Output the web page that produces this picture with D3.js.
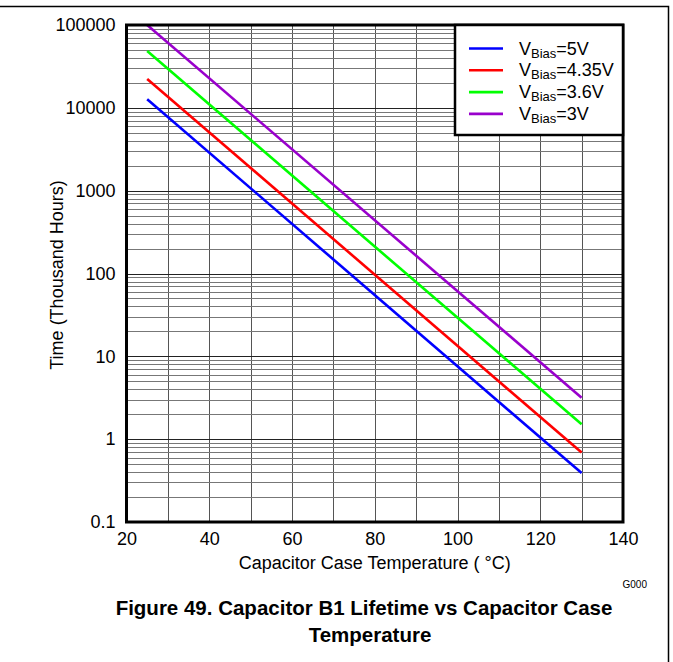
<!DOCTYPE html>
<html>
<head>
<meta charset="utf-8">
<script src="https://cdn.jsdelivr.net/npm/d3@7"></script>
<style>
  body { margin: 0; background: #fff; }
  svg { display: block; font-family: "Liberation Sans", Arial, sans-serif; }
</style>
</head>
<body>
<svg id="chart" width="673" height="662"></svg>
<script>
// data (straight lines on log scale, endpoints)
var temps = [25, 130];
var vBias5 = [12700, 0.39];
var vBias435 = [22300, 0.69];
var vBias36 = [48600, 1.51];
var vBias3 = [100000, 3.17];

var seriesNames = ["5V", "4.35V", "3.6V", "3V"];
var seriesColors = ["#0000ff", "#ff0000", "#00ff00", "#9900cc"];
var seriesValues = [vBias5, vBias435, vBias36, vBias3];

var xTicks = [20, 40, 60, 80, 100, 120, 140];
var yTicks = [0.1, 1, 10, 100, 1000, 10000, 100000];

var svg = d3.select("#chart");

// plot area
var plotL = 126.5, plotR = 623, plotT = 25, plotB = 522;

var x = d3.scaleLinear().domain([20, 140]).range([plotL, plotR]);
var y = d3.scaleLog().domain([0.1, 100000]).range([plotB, plotT]);

// outer frame
svg.append("path")
    .attr("d", "M0,6.5 H668.5 V662")
    .attr("fill", "none")
    .attr("stroke", "#000")
    .attr("stroke-width", 1.5);

// grid
var grid = svg.append("g").attr("class", "grid");
var vgrid = d3.range(30, 140, 10);
grid.selectAll("line.v")
    .data(vgrid)
    .enter().append("line")
    .attr("class", "v")
    .attr("x1", function(d){ return Math.round(x(d)) + 0.5; })
    .attr("x2", function(d){ return Math.round(x(d)) + 0.5; })
    .attr("y1", plotT)
    .attr("y2", plotB)
    .attr("stroke", "#555")
    .attr("stroke-width", 1);

var hgrid = [];
yTicks.forEach(function(t){
    for (var k = 1; k < 10; k++) {
        var v = t * k;
        if (v > 0.1 && v < 100000) hgrid.push({v: v, major: k === 1});
    }
});
grid.selectAll("line.h")
    .data(hgrid)
    .enter().append("line")
    .attr("class", "h")
    .attr("x1", plotL)
    .attr("x2", plotR)
    .attr("y1", function(d){ return Math.round(y(d.v)) + 0.5; })
    .attr("y2", function(d){ return Math.round(y(d.v)) + 0.5; })
    .attr("stroke", function(d){ return d.major ? "#222" : "#777"; })
    .attr("stroke-width", 1);

// series lines
svg.append("clipPath").attr("id", "clip")
    .append("rect")
    .attr("x", plotL).attr("y", plotT)
    .attr("width", plotR - plotL).attr("height", plotB - plotT);

var line = d3.line()
    .x(function(d){ return x(d[0]); })
    .y(function(d){ return y(d[1]); });

svg.append("g")
    .attr("clip-path", "url(#clip)")
    .selectAll("path")
    .data(seriesValues)
    .enter().append("path")
    .attr("d", function(vals){
        return line(temps.map(function(t, i){ return [t, vals[i]]; }));
    })
    .attr("fill", "none")
    .attr("stroke", function(d, i){ return seriesColors[i]; })
    .attr("stroke-width", 2.6);

// axes (labels only, frame drawn separately)
var xAxis = svg.append("g")
    .attr("transform", "translate(0," + plotB + ")")
    .call(d3.axisBottom(x).tickValues(xTicks).tickSize(0).tickPadding(10));
xAxis.select(".domain").remove();
xAxis.selectAll("text")
    .attr("font-size", "18px")
    .attr("font-family", "Liberation Sans, Arial, sans-serif")
    .attr("fill", "#000");

var yAxis = svg.append("g")
    .attr("transform", "translate(" + plotL + ",0)")
    .call(d3.axisLeft(y).tickValues(yTicks).tickSize(0).tickPadding(11)
        .tickFormat(function(d){ return d < 1 ? "0.1" : d3.format("d")(d); }));
yAxis.select(".domain").remove();
yAxis.selectAll("text")
    .attr("font-size", "18px")
    .attr("font-family", "Liberation Sans, Arial, sans-serif")
    .attr("fill", "#000");

// plot border
svg.append("rect")
    .attr("x", plotL).attr("y", plotT)
    .attr("width", plotR - plotL).attr("height", plotB - plotT)
    .attr("fill", "none")
    .attr("stroke", "#000")
    .attr("stroke-width", 3);

// legend
var legX = 455, legY = plotT;
var legend = svg.append("g");
legend.append("rect")
    .attr("x", legX).attr("y", legY)
    .attr("width", plotR - legX).attr("height", 110)
    .attr("fill", "#fff")
    .attr("stroke", "#000")
    .attr("stroke-width", 2.5);

var rows = legend.selectAll("g.row")
    .data(seriesNames)
    .enter().append("g")
    .attr("class", "row")
    .attr("transform", function(d, i){ return "translate(0," + (48.5 + i * 21.8) + ")"; });
rows.append("line")
    .attr("x1", 469).attr("x2", 503)
    .attr("stroke", function(d, i){ return seriesColors[i]; })
    .attr("stroke-width", 2.6);
var lt = rows.append("text")
    .attr("x", 519)
    .attr("y", 6)
    .attr("font-size", "18px");
lt.append("tspan").text("V");
lt.append("tspan").attr("font-size", "13px").attr("dy", 3).text("Bias");
lt.append("tspan").attr("dy", -3).text(function(d){ return "=" + d; });

// axis titles
svg.append("text")
    .attr("x", (plotL + plotR) / 2)
    .attr("y", 569)
    .attr("text-anchor", "middle")
    .attr("font-size", "18px")
    .text("Capacitor Case Temperature ( \u00B0C)");

svg.append("text")
    .attr("transform", "translate(63,275) rotate(-90)")
    .attr("text-anchor", "middle")
    .attr("font-size", "18px")
    .text("Time (Thousand Hours)");

// graph id
svg.append("text")
    .attr("x", 647)
    .attr("y", 588)
    .attr("text-anchor", "end")
    .attr("font-size", "10px")
    .text("G000");

// caption
var cap = svg.append("text")
    .attr("text-anchor", "middle")
    .attr("font-size", "20.5px")
    .attr("font-weight", "bold");
cap.append("tspan").attr("x", 364).attr("y", 615)
    .text("Figure 49. Capacitor B1 Lifetime vs Capacitor Case");
cap.append("tspan").attr("x", 370).attr("y", 642)
    .text("Temperature");
</script>
</body>
</html>
